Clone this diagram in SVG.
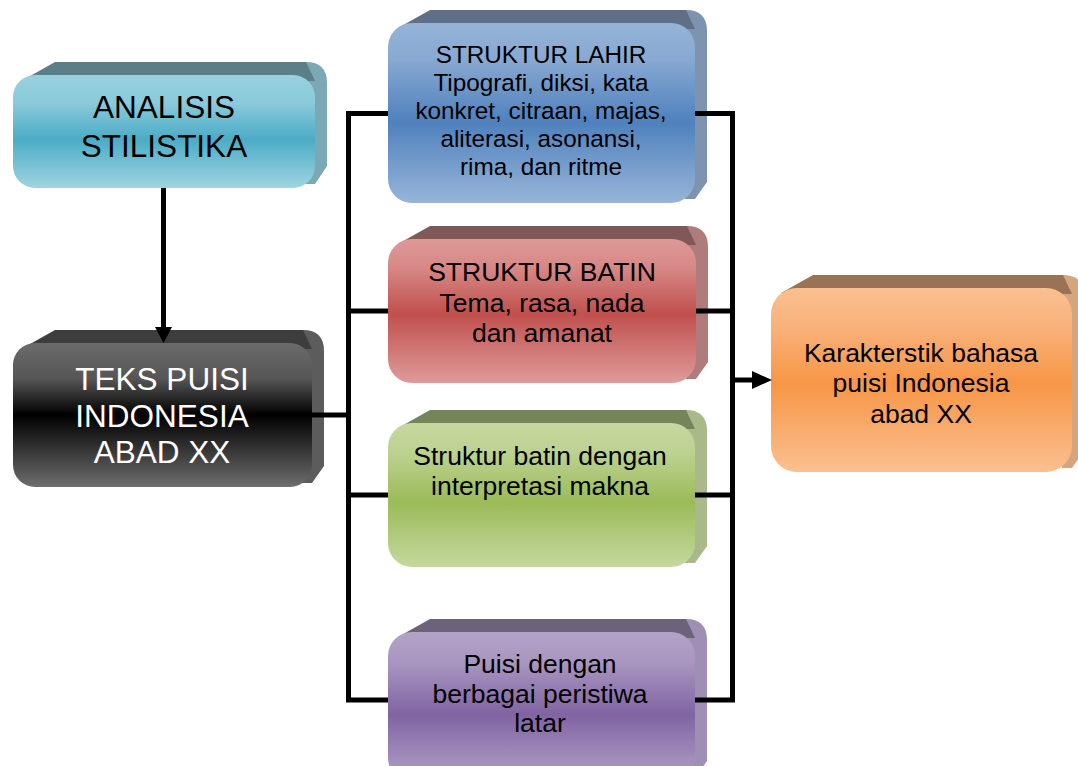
<svg xmlns="http://www.w3.org/2000/svg" width="1078" height="766" viewBox="0 0 1078 766">
<defs>
<linearGradient id="gTeal" x1="0" y1="0" x2="0" y2="1"><stop offset="0" stop-color="#98d0dd"/><stop offset="0.25" stop-color="#8acadb"/><stop offset="0.57" stop-color="#4bacc6"/><stop offset="1" stop-color="#a0d4e1"/></linearGradient>
<linearGradient id="gBlack" x1="0" y1="0" x2="0" y2="1"><stop offset="0" stop-color="#6b6b6b"/><stop offset="0.25" stop-color="#555"/><stop offset="0.5" stop-color="#000"/><stop offset="1" stop-color="#6e6e6e"/></linearGradient>
<linearGradient id="gBlue" x1="0" y1="0" x2="0" y2="1"><stop offset="0" stop-color="#95b3d7"/><stop offset="0.2" stop-color="#88a9d2"/><stop offset="0.55" stop-color="#4f81bd"/><stop offset="1" stop-color="#97b5d8"/></linearGradient>
<linearGradient id="gRed" x1="0" y1="0" x2="0" y2="1"><stop offset="0" stop-color="#de9998"/><stop offset="0.2" stop-color="#d78886"/><stop offset="0.52" stop-color="#c0504d"/><stop offset="1" stop-color="#de9b9a"/></linearGradient>
<linearGradient id="gGreen" x1="0" y1="0" x2="0" y2="1"><stop offset="0" stop-color="#c5d89f"/><stop offset="0.2" stop-color="#bdd291"/><stop offset="0.55" stop-color="#9bbb59"/><stop offset="1" stop-color="#c5d89f"/></linearGradient>
<linearGradient id="gPurple" x1="0" y1="0" x2="0" y2="1"><stop offset="0" stop-color="#b3a2c8"/><stop offset="0.2" stop-color="#a996c0"/><stop offset="0.55" stop-color="#8064a2"/><stop offset="1" stop-color="#b3a2c8"/></linearGradient>
<linearGradient id="gOrange" x1="0" y1="0" x2="0" y2="1"><stop offset="0" stop-color="#fac090"/><stop offset="0.2" stop-color="#f9b27c"/><stop offset="0.52" stop-color="#f79646"/><stop offset="1" stop-color="#fac090"/></linearGradient>
<style>
text{font-family:"Liberation Sans",Arial,sans-serif;text-anchor:middle;fill:#000}
.big{font-size:31.5px}
.mid{font-size:26.5px}
.sm{font-size:24.3px}
.w{fill:#fff}
.conn{fill:none;stroke:#000;stroke-width:5;stroke-linejoin:miter}
</style>
</defs>

<g id="analisis">
<path fill="#7aa8b4" d="M306,62 Q327,62 327,83 L327,166 L315,184 L305,184 L305,81 Z"/>
<path fill="#5a7f89" d="M23,80 L55,62 L306,62 L315,81 Z"/>
<rect x="13" y="75" width="302" height="113" rx="22" fill="url(#gTeal)"/>
<text class="big" x="164" y="118">ANALISIS</text>
<text class="big" x="164" y="157">STILISTIKA</text>
</g>

<g id="teks">
<path fill="#5c5c5c" d="M303,330 Q324,330 324,351 L324,466 L312,483 L302,483 L302,349 Z"/>
<path fill="#3d3d3d" d="M23,348 L55,330 L303,330 L312,349 Z"/>
<rect x="13" y="343" width="299" height="144" rx="22" fill="url(#gBlack)"/>
<text class="big w" x="162" y="390">TEKS PUISI</text>
<text class="big w" x="162" y="427">INDONESIA</text>
<text class="big w" x="162" y="463">ABAD XX</text>
</g>

<g id="lahir">
<path fill="#7d93b0" d="M686,10 Q707,10 707,31 L707,182 L695,199 L685,199 L685,29 Z"/>
<path fill="#5e6f86" d="M398,28 L430,10 L686,10 L695,29 Z"/>
<rect x="388" y="23" width="307" height="180" rx="24" fill="url(#gBlue)"/>
<text class="sm" x="541" y="63">STRUKTUR LAHIR</text>
<text class="sm" x="541" y="91">Tipografi, diksi, kata</text>
<text class="sm" x="541" y="119">konkret, citraan, majas,</text>
<text class="sm" x="541" y="147">aliterasi, asonansi,</text>
<text class="sm" x="541" y="175">rima, dan ritme</text>
</g>

<g id="batin">
<path fill="#b07c7b" d="M687,226 Q708,226 708,247 L708,362 L696,379 L686,379 L686,245 Z"/>
<path fill="#805858" d="M398,244 L430,226 L687,226 L696,245 Z"/>
<rect x="388" y="239" width="308" height="144" rx="24" fill="url(#gRed)"/>
<text class="mid" x="542" y="281">STRUKTUR BATIN</text>
<text class="mid" x="542" y="312">Tema, rasa, nada</text>
<text class="mid" x="542" y="342">dan amanat</text>
</g>

<g id="interpretasi">
<path fill="#a9b98a" d="M686,410 Q707,410 707,431 L707,546 L695,563 L685,563 L685,429 Z"/>
<path fill="#74855a" d="M398,428 L430,410 L686,410 L695,429 Z"/>
<rect x="388" y="423" width="307" height="144" rx="24" fill="url(#gGreen)"/>
<text class="mid" x="540" y="465">Struktur batin dengan</text>
<text class="mid" x="540" y="495">interpretasi makna</text>
</g>

<g id="latar">
<path fill="#9f8fb4" d="M686,619 Q707,619 707,640 L707,761 L695,778 L685,778 L685,638 Z"/>
<path fill="#6b6379" d="M398,637 L430,619 L686,619 L695,638 Z"/>
<rect x="388" y="632" width="307" height="150" rx="24" fill="url(#gPurple)"/>
<text class="mid" x="540" y="673">Puisi dengan</text>
<text class="mid" x="540" y="703">berbagai peristiwa</text>
<text class="mid" x="540" y="732">latar</text>
</g>

<g id="karakteristik">
<path fill="#d4a67d" d="M1063,275 Q1084,275 1084,296 L1084,451 L1072,468 L1062,468 L1062,294 Z"/>
<path fill="#9a7356" d="M781,293 L813,275 L1063,275 L1072,294 Z"/>
<rect x="771" y="288" width="301" height="184" rx="26" fill="url(#gOrange)"/>
<text class="mid" x="921" y="362">Karakterstik bahasa</text>
<text class="mid" x="921" y="392">puisi Indonesia</text>
<text class="mid" x="921" y="423">abad XX</text>
</g>

<g id="connectors">
<path class="conn" d="M163.5,188 V329"/>
<polygon points="155,327 172,327 163.5,343" fill="#000"/>
<path class="conn" d="M312,415 H348.5"/>
<path class="conn" d="M388,113.5 H348.5 V700 H388"/>
<path class="conn" d="M348.5,311 H388"/>
<path class="conn" d="M348.5,495 H388"/>
<path class="conn" d="M695,113.5 H732.5 V700 H695"/>
<path class="conn" d="M696,311 H732.5"/>
<path class="conn" d="M695,495 H732.5"/>
<path class="conn" d="M732.5,380 H754"/>
<polygon points="752,371 772,380 752,389" fill="#000"/>
</g>
</svg>
